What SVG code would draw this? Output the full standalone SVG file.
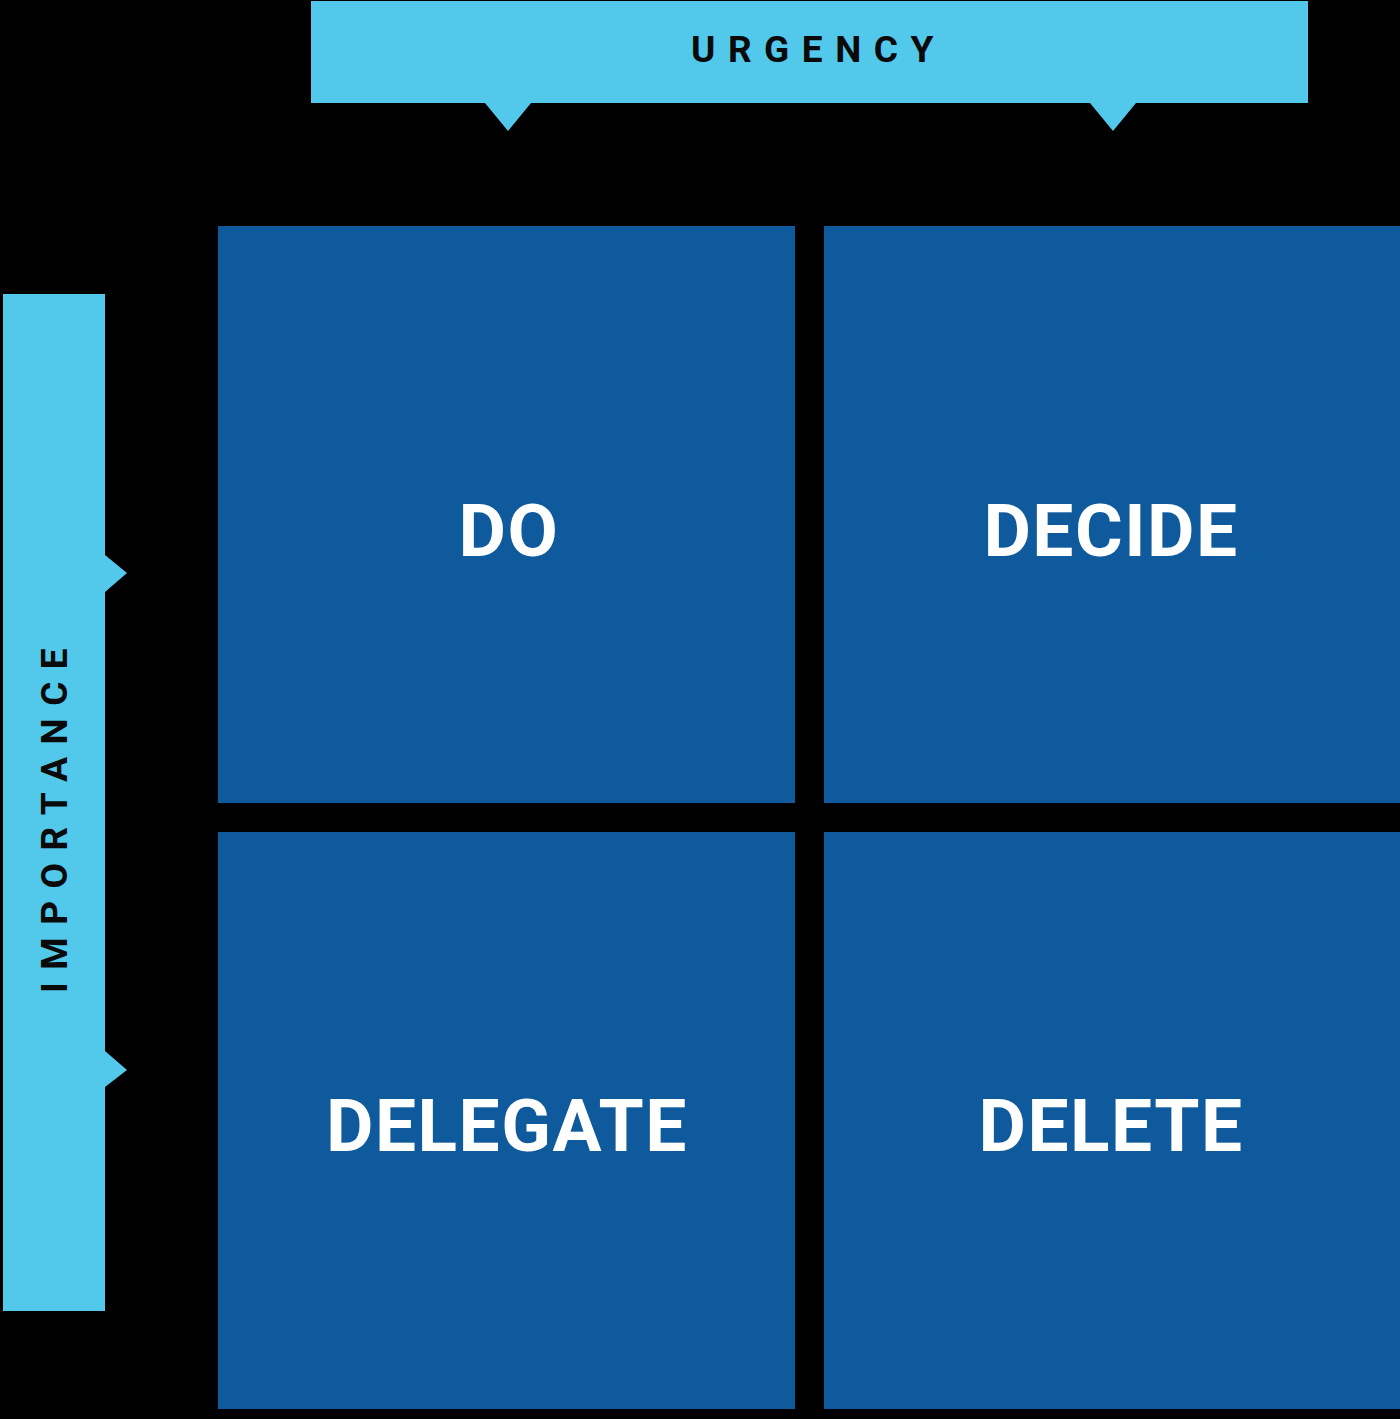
<svg xmlns="http://www.w3.org/2000/svg" width="1400" height="1419" viewBox="0 0 1400 1419">
<style>
.bg{fill:#000000}
.banner{fill:#52C8EB}
.quad{fill:#0E5A9C}
.axis{font-family:Roboto,"Liberation Sans",sans-serif;font-weight:700;font-size:37px;fill:#0A0A0A;letter-spacing:12.5px}
.qlabel{font-family:Roboto,"Liberation Sans",sans-serif;font-weight:700;font-size:73px;letter-spacing:1.5px;fill:#FFFFFF;text-anchor:middle}
</style>
<rect class="bg" x="0" y="0" width="1400" height="1419"/>
<g id="urgency">
<path class="banner" d="M311 1 H1308 V103 H1136 L1113 131 L1090 103 H531 L508 131 L485 103 H311 Z"/>
<text class="axis" x="691" y="62">URGENCY</text>
</g>
<g id="importance">
<path class="banner" d="M3 294 H105 V555 L127 573 L105 592 V1051 L127 1070 L105 1087 V1311 H3 Z"/>
<text class="axis" transform="translate(67 993) rotate(-90)">IMPORTANCE</text>
</g>
<g id="do">
<rect class="quad" x="218" y="226" width="577" height="577"/>
<text class="qlabel" x="509" y="556">DO</text>
</g>
<g id="decide">
<rect class="quad" x="824" y="226" width="576" height="577"/>
<text class="qlabel" x="1111" y="556">DECIDE</text>
</g>
<g id="delegate">
<rect class="quad" x="218" y="832" width="577" height="577"/>
<text class="qlabel" x="507" y="1151">DELEGATE</text>
</g>
<g id="delete">
<rect class="quad" x="824" y="832" width="576" height="577"/>
<text class="qlabel" x="1111" y="1151">DELETE</text>
</g>
<g id="connectors"></g>
</svg>
